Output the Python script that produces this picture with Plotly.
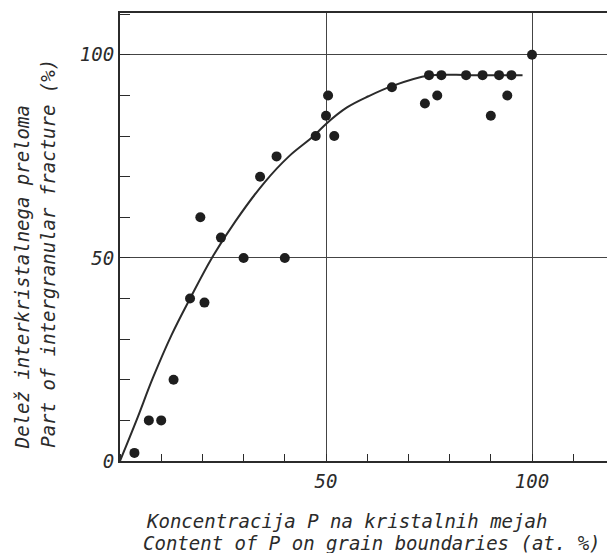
import plotly.graph_objects as go

# Measured points: P content on grain boundaries (at. %) vs intergranular fracture (%)
pts_x = [3.5, 7, 10, 13, 17, 19.5, 20.5, 24.5, 30, 40, 34, 38, 47.5, 52, 50, 50.5,
         66, 74, 75, 77, 78, 84, 88, 90, 92, 94, 95, 100]
pts_y = [2, 10, 10, 20, 40, 60, 39, 55, 50, 50, 70, 75, 80, 80, 85, 90,
         92, 88, 95, 90, 95, 95, 95, 85, 95, 90, 95, 100]

# Fitted curve
curve_x = [0, 4, 8, 12.5, 17, 22.3, 28, 35, 41, 47, 50, 55, 60.3, 66, 75, 85, 97.7]
curve_y = [0, 10, 20.5, 31, 40, 50, 59, 68.5, 75, 80, 83, 87, 89.8, 92.3, 94.9, 95, 95]

x_tickvals = [50, 100]
x_ticktext = ["50", "100"]
y_tickvals = [0, 50, 100]
y_ticktext = ["0", "50", "100"]

x_title_lines = ["Koncentracija P na kristalnih mejah",
                 "Content of P on grain boundaries (at. %)"]
y_title_lines = ["Delež interkristalnega preloma",
                 "Part of intergranular fracture (%)"]

ink = "#2b2b2b"
FONT = "DejaVu Sans Mono"
tfont = dict(family=FONT, size=19, style="italic", color=ink)

fig = go.Figure()
fig.add_trace(go.Scatter(x=curve_x, y=curve_y, mode="lines",
                         line=dict(color=ink, width=2, shape="spline", smoothing=1),
                         hoverinfo="skip", showlegend=False))
fig.add_trace(go.Scatter(x=pts_x, y=pts_y, mode="markers",
                         marker=dict(color="#1e1e1e", size=10),
                         showlegend=False))

annotations = [
    dict(text=x_title_lines[0], xref="paper", yref="paper", x=0.05, y=-0.134,
         xanchor="left", yanchor="middle", showarrow=False, font=tfont),
    dict(text=x_title_lines[1], xref="paper", yref="paper", x=0.044, y=-0.183,
         xanchor="left", yanchor="middle", showarrow=False, font=tfont),
    dict(text=y_title_lines[0], xref="paper", yref="paper", x=-0.201, y=0.022,
         xanchor="center", yanchor="bottom", showarrow=False, textangle=-90, font=tfont),
    dict(text=y_title_lines[1], xref="paper", yref="paper", x=-0.148, y=0.026,
         xanchor="center", yanchor="bottom", showarrow=False, textangle=-90, font=tfont),
]

fig.update_layout(
    width=607, height=553,
    margin=dict(l=120, r=0, t=13, b=92),
    paper_bgcolor="white", plot_bgcolor="white",
    font=dict(family=FONT, color=ink, size=17, style="italic"),
    xaxis=dict(range=[0, 118.2], tickmode="array", tickvals=x_tickvals, ticktext=x_ticktext,
               ticks="", showgrid=True, gridcolor="#444", gridwidth=1.2,
               showline=True, linecolor=ink, linewidth=2, mirror=True,
               zeroline=False, ticklabelstandoff=2,
               tickfont=dict(family=FONT, size=19, style="italic", color=ink),
               minor=dict(dtick=10, tick0=0, ticks="inside", ticklen=7, tickwidth=1.2,
                          tickcolor=ink, showgrid=False)),
    yaxis=dict(range=[0, 110.3], tickmode="array", tickvals=y_tickvals, ticktext=y_ticktext,
               ticks="", showgrid=True, gridcolor="#444", gridwidth=1.2,
               showline=True, linecolor=ink, linewidth=2, mirror=False,
               zeroline=False, ticklabelstandoff=0,
               tickfont=dict(family=FONT, size=19, style="italic", color=ink),
               minor=dict(dtick=10, tick0=0, ticks="inside", ticklen=10, tickwidth=1.2,
                          tickcolor=ink, showgrid=False)),
    annotations=annotations,
)

fig.write_html("out.html", config={"displayModeBar": False},
               post_script="document.body.style.margin='0';")
